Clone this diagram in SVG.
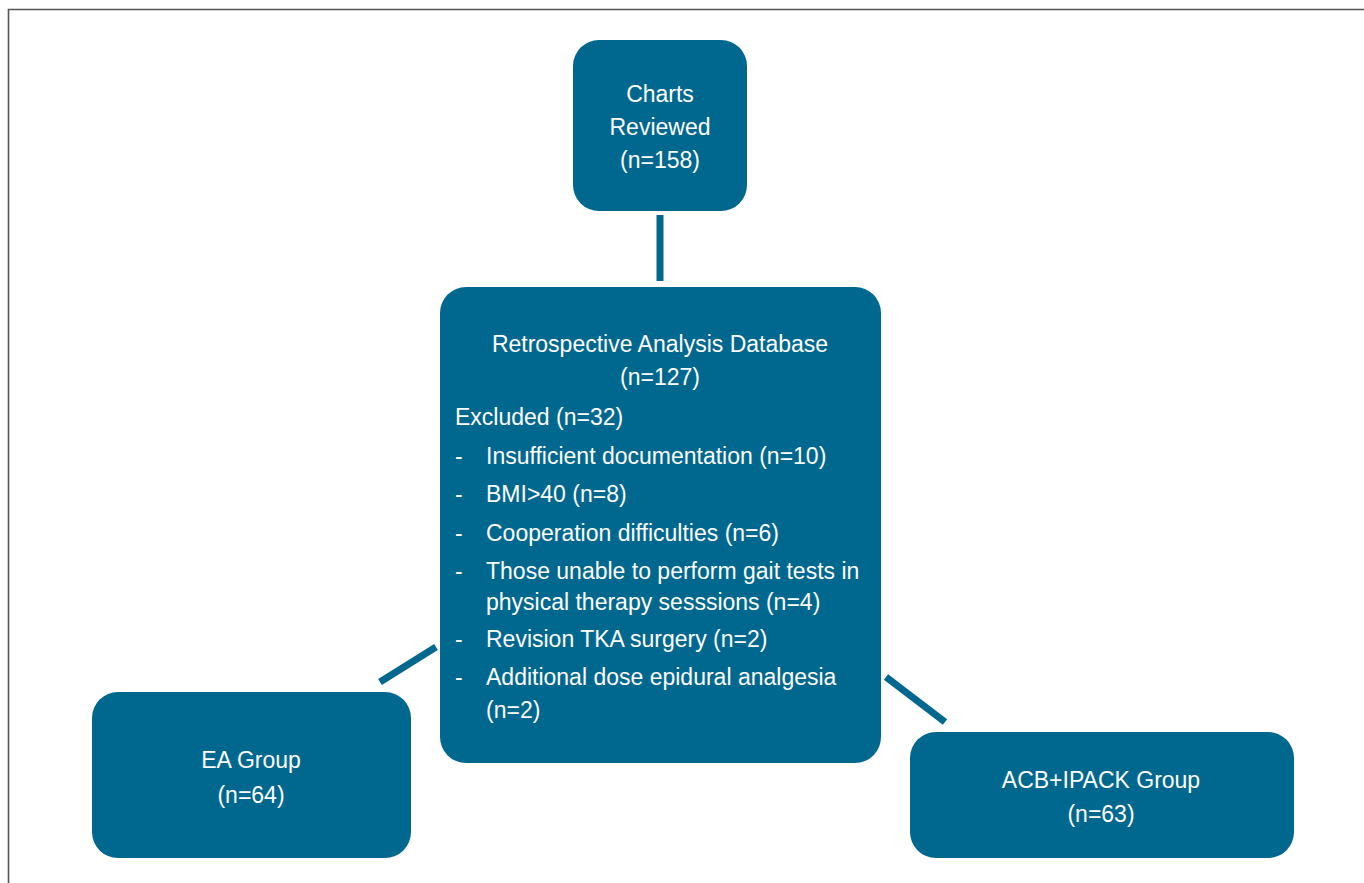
<svg xmlns="http://www.w3.org/2000/svg" width="1364" height="883" viewBox="0 0 1364 883">
<style>
.box{fill:#00688f}
.t{font-family:"Liberation Sans",Arial,sans-serif;font-size:23px;fill:#ffffff}
.c{text-anchor:middle}
.ln{stroke:#00688f;stroke-width:7;fill:none}
</style>
<rect width="1364" height="883" fill="#ffffff"/>
<path d="M8.5 883 V9.5 H1364" fill="none" stroke="#555555" stroke-width="1.6"/>
<g id="connectors">
<line class="ln" x1="660" y1="215" x2="660" y2="281"/>
<line class="ln" x1="436" y1="647" x2="380" y2="682"/>
<line class="ln" x1="886" y1="677" x2="945" y2="722"/>
</g>
<g id="charts">
<rect class="box" x="573" y="40" width="174" height="171" rx="26"/>
<text class="t c" x="660" y="102">Charts</text>
<text class="t c" x="660" y="135">Reviewed</text>
<text class="t c" x="660" y="168">(n=158)</text>
</g>
<g id="database">
<rect class="box" x="440" y="287" width="441" height="476" rx="26"/>
<text class="t c" x="660" y="352">Retrospective Analysis Database</text>
<text class="t c" x="660" y="385">(n=127)</text>
<text class="t" x="455" y="425">Excluded (n=32)</text>
<g class="t">
<text x="455" y="464">-</text><text x="486" y="464">Insufficient documentation (n=10)</text>
<text x="455" y="502">-</text><text x="486" y="502">BMI&gt;40 (n=8)</text>
<text x="455" y="541">-</text><text x="486" y="541">Cooperation difficulties (n=6)</text>
<text x="455" y="579">-</text><text x="486" y="579">Those unable to perform gait tests in</text>
<text x="486" y="610">physical therapy sesssions (n=4)</text>
<text x="455" y="647">-</text><text x="486" y="647">Revision TKA surgery (n=2)</text>
<text x="455" y="685">-</text><text x="486" y="685">Additional dose epidural analgesia</text>
<text x="486" y="718">(n=2)</text>
</g>
</g>
<g id="ea">
<rect class="box" x="92" y="692" width="319" height="166" rx="26"/>
<text class="t c" x="251" y="768">EA Group</text>
<text class="t c" x="251" y="803">(n=64)</text>
</g>
<g id="acb">
<rect class="box" x="910" y="732" width="384" height="126" rx="26"/>
<text class="t c" x="1101" y="788">ACB+IPACK Group</text>
<text class="t c" x="1101" y="822">(n=63)</text>
</g>
</svg>
